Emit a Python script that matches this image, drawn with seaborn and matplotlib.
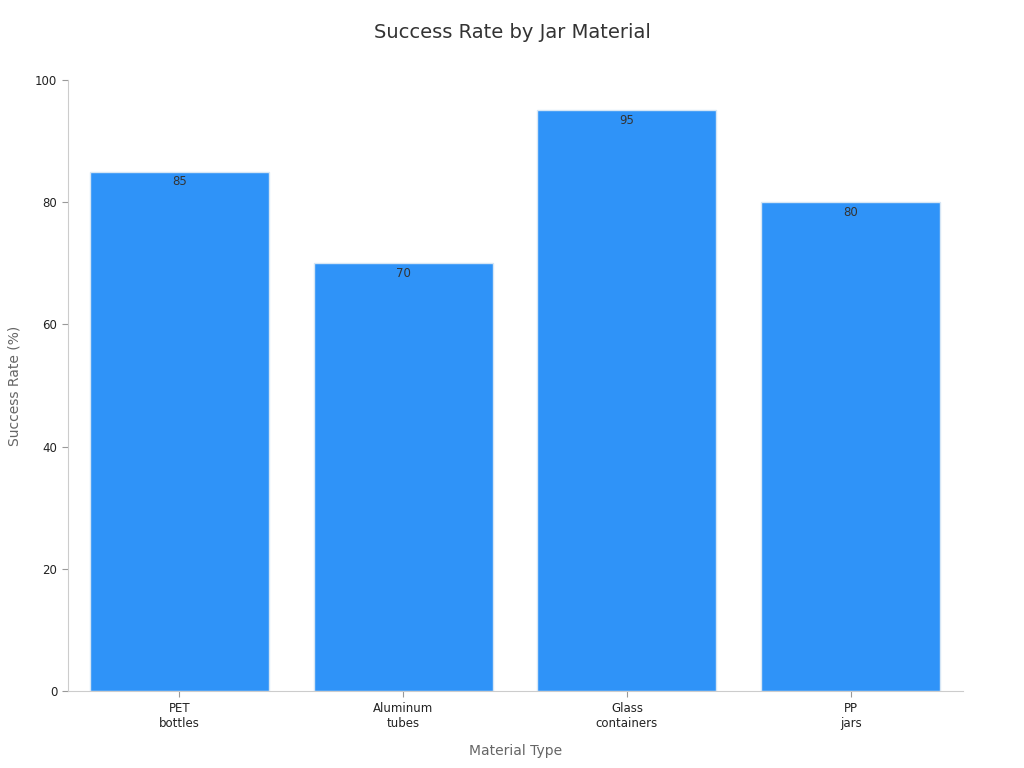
import matplotlib
matplotlib.use("Agg")
import matplotlib.pyplot as plt
import seaborn as sns
import pandas as pd

materials = ["PET\nbottles", "Aluminum\ntubes", "Glass\ncontainers", "PP\njars"]
success_rate = [85, 70, 95, 80]

sns.set_style("ticks")
plt.rcParams['font.family'] = ['DejaVu Sans']

df = pd.DataFrame({"material": materials, "rate": success_rate})

fig = plt.figure(figsize=(10.24, 7.68), dpi=100)
ax = fig.add_axes([0.066, 0.100, 0.874, 0.796])
sns.barplot(data=df, x="material", y="rate", color="#2f93f8", saturation=1,
            width=0.8, edgecolor="#d6e6f5", linewidth=1, ax=ax)

for i, v in enumerate(success_rate):
    ax.text(i, v - 0.6, f"{v}", ha="center", va="top", fontsize=8.5, color="#333333")

ax.set_xlim(-0.5, 3.5)
ax.set_ylim(0, 100)
ax.set_yticks([0, 20, 40, 60, 80, 100])
ax.tick_params(axis="both", labelsize=8.5, labelcolor="#222222", length=4, color="#999999")
for s in ["top", "right"]:
    ax.spines[s].set_visible(False)
for s in ["left", "bottom"]:
    ax.spines[s].set_color("#cccccc")
ax.set_xlabel("Material Type", fontsize=10, color="#666666", labelpad=10)
ax.set_ylabel("Success Rate (%)", fontsize=10, color="#666666", labelpad=10)
fig.suptitle("Success Rate by Jar Material", fontsize=14, color="#333333", y=0.97)

fig.savefig("out.png", dpi=100)
